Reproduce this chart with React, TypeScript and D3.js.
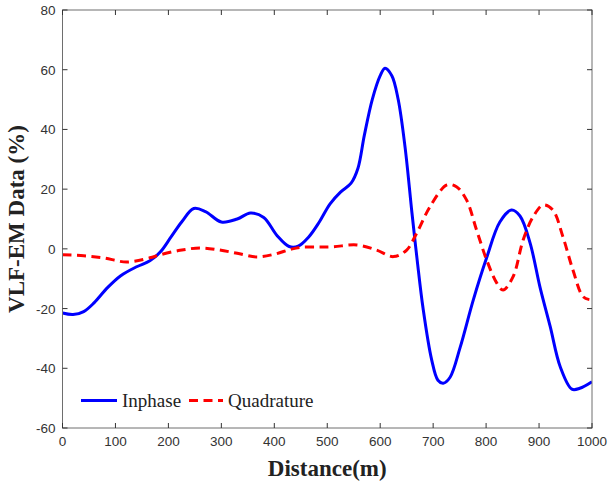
import React from "react";
import * as d3 from "d3";

const inphaseX = [0, 20, 40, 60, 85, 110, 140, 165, 185, 205, 225, 248, 270, 300, 330, 355, 380, 405, 428, 445, 465, 485, 505, 525, 545, 558, 570, 585, 600, 609, 622, 634, 647, 660, 670, 681, 697, 709, 719, 732, 751, 776, 801, 826, 848, 864, 883, 902, 921, 940, 962, 977, 1000];
const inphaseY = [-21.5, -22, -21, -18, -13, -9, -6, -4, -1, 4, 9, 13.5, 12.5, 9, 10, 12, 10.5, 4.5, 0.8, 0.9, 4, 9, 15, 19, 22, 27, 38, 50, 58, 60.5, 58, 50, 34, 12, -4, -20, -37, -44, -45, -43, -33, -17, -3, 9, 13, 11, 2, -13, -26, -39.5, -47, -46.7, -44.5];

const quadX = [0, 40, 77, 121, 165, 184, 222, 260, 297, 330, 367, 400, 430, 449, 480, 511, 556, 593, 625, 650, 669, 694, 726, 744, 763, 782, 801, 820, 832, 851, 870, 889, 908, 926, 945, 964, 983, 995];
const quadY = [-2, -2.3, -3, -4.4, -3, -2, -0.5, 0.3, -0.4, -1.5, -2.7, -1.8, -0.2, 0.5, 0.6, 0.7, 1.3, -0.4, -2.6, -0.4, 5.3, 14.1, 21.4, 20.8, 16.4, 6.3, -3.7, -11.4, -13.8, -9.3, 3, 10.8, 14.7, 13, 4.1, -7.1, -16, -17];

const xTicks = [0, 100, 200, 300, 400, 500, 600, 700, 800, 900, 1000];
const yTicks = [-60, -40, -20, 0, 20, 40, 60, 80];

export default function App() {
  const W = 611, H = 487;
  const L = 62.5, R = 592, T = 10, B = 428;
  const x = d3.scaleLinear().domain([0, 1000]).range([L, R]);
  const y = d3.scaleLinear().domain([-60, 80]).range([B, T]);
  const line = d3.line<[number, number]>().x(d => x(d[0])).y(d => y(d[1])).curve(d3.curveCatmullRom.alpha(0.5));
  const inP = line(inphaseX.map((v, i) => [v, inphaseY[i]]) as [number, number][]) || "";
  const qP = line(quadX.map((v, i) => [v, quadY[i]]) as [number, number][]) || "";
  const axisColor = "#6e6e6e";
  const tickColor = "#333";
  const serif = "Liberation Serif, Times New Roman, serif";
  const sans = "Liberation Sans, Arial, sans-serif";
  return (
    <svg width={W} height={H} style={{ position: "absolute", left: 0, top: 0, background: "#fff" }}>
      <defs>
        <clipPath id="clip"><rect x={L} y={T} width={R - L} height={B - T} /></clipPath>
      </defs>
      <rect x={0} y={0} width={W} height={H} fill="#fff" />
      <g clipPath="url(#clip)">
        <path d={inP} fill="none" stroke="#0000ff" strokeWidth={3} />
        <path d={qP} fill="none" stroke="#ff0000" strokeWidth={3} strokeDasharray="9,5.5" />
      </g>
      <rect x={L} y={T} width={R - L} height={B - T} fill="none" stroke={axisColor} strokeWidth={1} />
      {xTicks.map(t => (
        <g key={"x" + t}>
          <line x1={x(t)} x2={x(t)} y1={B} y2={B - 5} stroke={tickColor} />
          <line x1={x(t)} x2={x(t)} y1={T} y2={T + 5} stroke={tickColor} />
          <text x={x(t)} y={B + 18} textAnchor="middle" fontFamily={sans} fontSize={13.5} fill="#333">{t}</text>
        </g>
      ))}
      {yTicks.map(t => (
        <g key={"y" + t}>
          <line x1={L} x2={L + 5} y1={y(t)} y2={y(t)} stroke={tickColor} />
          <line x1={R} x2={R - 5} y1={y(t)} y2={y(t)} stroke={tickColor} />
          <text x={L - 7} y={y(t) + 5} textAnchor="end" fontFamily={sans} fontSize={13.5} fill="#333">{t}</text>
        </g>
      ))}
      <text x={(L + R) / 2} y={476} textAnchor="middle" fontFamily={serif} fontWeight="bold" fontSize={23} fill="#222">Distance(m)</text>
      <text transform={`translate(24, ${(T + B) / 2}) rotate(-90)`} textAnchor="middle" fontFamily={serif} fontWeight="bold" fontSize={23} fill="#222">VLF-EM Data (%)</text>
      <g>
        <line x1={81} x2={117} y1={400.5} y2={400.5} stroke="#0000ff" strokeWidth={3} />
        <text x={122} y={407} fontFamily={serif} fontSize={19} fill="#222">Inphase</text>
        <line x1={189} x2={223} y1={400.5} y2={400.5} stroke="#ff0000" strokeWidth={3} strokeDasharray="9,5.5" />
        <text x={228} y={407} fontFamily={serif} fontSize={19} fill="#222">Quadrature</text>
      </g>
    </svg>
  );
}
